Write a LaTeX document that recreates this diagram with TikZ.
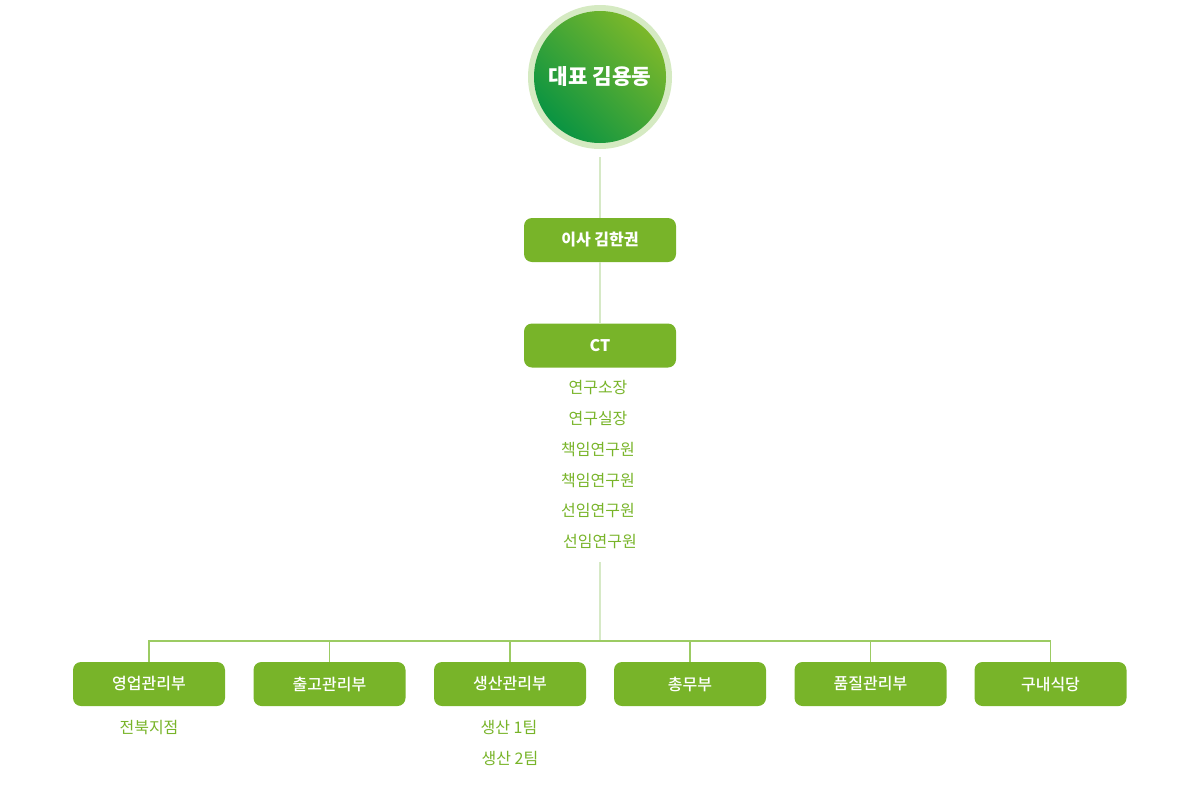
\documentclass[tikz,border=0pt]{standalone}
\usepackage{fontspec}
\setmainfont{Noto Sans CJK KR}
\newfontfamily\krmed{Noto Sans CJK KR Medium}
\usetikzlibrary{shadings}
\definecolor{gbox}{HTML}{78B429}
\definecolor{gline}{HTML}{D6E9C6}
\definecolor{hline}{HTML}{9CCB63}
\definecolor{gdark}{HTML}{0A9442}
\definecolor{glight}{HTML}{7CB82A}
\definecolor{ring}{HTML}{D5EAC2}
\begin{document}
\begin{tikzpicture}[x=0.75pt,y=-0.75pt,
  box/.style={fill=gbox,rounded corners=6pt,minimum width=114pt,minimum height=33pt,text=white,font=\fontsize{12}{14}\selectfont\bfseries,inner sep=0pt},
  lbox/.style={box,font=\fontsize{12}{14}\selectfont\krmed},
  sub/.style={text=gbox,font=\fontsize{12}{14}\selectfont,inner sep=0pt},
  vl/.style={draw=gline,line width=0.9pt},
  hl/.style={draw=hline,line width=0.9pt}]
\useasboundingbox (0,0) rectangle (1200,800);
% top circle
\fill[ring] (600,77) circle (54pt);
\shade[shading=axis,left color=gdark,right color=glight,shading angle=135] (600,77) circle (49.5pt);
\node[text=white,font=\fontsize{16}{18}\selectfont\bfseries,inner sep=0pt] (ceo) at (600,77) {대표 김용동};
\coordinate (ceob) at (600,157);
\node[box] (dir) at (600,240) {이사 김한권};
\node[box] (ct) at (600,345.5) {CT};
\node[sub] (t1) at (598,388) {연구소장};
\node[sub] (t2) at (598,419) {연구실장};
\node[sub] (t3) at (598,450) {책임연구원};
\node[sub] (t4) at (598,481) {책임연구원};
\node[sub] (t5) at (598,511) {선임연구원};
\node[sub] (t6) at (600,542) {선임연구원};
\coordinate (ctl) at (600,562);
\coordinate (hub) at (600,641);
\draw[vl] (ceob) -- (dir.north);
\draw[vl] (dir.south) -- (ct.north);
\draw[vl] (ctl) -- (hub);
% bottom boxes
\node[lbox] (b1) at (149,684) {영업관리부};
\node[lbox] (b2) at (329.5,684) {출고관리부};
\node[lbox] (b3) at (510,684) {생산관리부};
\node[lbox] (b4) at (690,684) {총무부};
\node[lbox] (b5) at (870.5,684) {품질관리부};
\node[lbox] (b6) at (1050.5,684) {구내식당};
\draw[hl] (b1.north) |- (hub) -| (b6.north);
\foreach \b in {b2,b3,b4,b5} \draw[hl] (\b.north) -- (\b.north |- hub);
\node[sub] (s1) at (149,727) {전북지점};
\node[sub] (s2) at (509,727) {생산 1팀};
\node[sub] (s3) at (510,758) {생산 2팀};
\end{tikzpicture}
\end{document}
